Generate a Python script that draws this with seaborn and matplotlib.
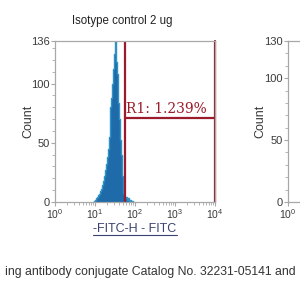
import numpy as np
import pandas as pd
import matplotlib
matplotlib.use("Agg")
import matplotlib.pyplot as plt
from matplotlib.lines import Line2D
from matplotlib.ticker import FixedLocator, NullFormatter
import seaborn as sns

# ---- data ----
title = "Isotype control 2 ug"
xlabel = "-FITC-H - FITC"
ylabel = "Count"
caption = "ing antibody conjugate Catalog No. 32231-05141 and"
region_label = "R1: 1.239%"

log_fitc = [0.95, 0.975, 1.0, 1.025, 1.05, 1.075, 1.1, 1.125, 1.15, 1.175,
            1.2, 1.225, 1.25, 1.275, 1.3, 1.325, 1.35, 1.375, 1.4, 1.425,
            1.45, 1.475, 1.5, 1.525, 1.55, 1.575, 1.6, 1.625, 1.65, 1.675,
            1.7, 1.725, 1.75, 1.775, 1.8, 1.825, 1.85, 1.875, 1.9, 1.925, 1.95]
counts = [0, 1, 2, 3, 4, 6, 7, 9, 11, 14,
          18, 22, 27, 32, 38, 45, 55, 80, 88, 100,
          112, 125, 136, 118, 108, 84, 70, 52, 40, 22,
          8, 5, 3, 4, 2, 3, 1, 2, 1, 1, 0]

gate_low = 56.0      # R1 left boundary
gate_high = 10000.0  # R1 right boundary
gate_level = 71      # R1 horizontal line (count)

y_ticks_1 = [0, 50, 100, 136]
y_ticks_2 = [0, 50, 100, 130]
x_decades = [0, 1, 2, 3, 4]

df = pd.DataFrame({"fitc": 10 ** np.array(log_fitc), "count": counts})

# ---- style ----
sns.set_style("white")
plt.rcParams["font.family"] = ["Liberation Sans", "DejaVu Sans"]
plt.rcParams["mathtext.fontset"] = "custom"
plt.rcParams["mathtext.rm"] = "Liberation Sans"

grey = "#a8a8a8"
txt = "#3a3a3a"
red = "#9a1b2b"

fig = plt.figure(figsize=(3, 3), dpi=100)
ax = fig.add_axes([55 / 300, 98 / 300, 160 / 300, 161 / 300])

ax.fill_between(df["fitc"], df["count"], step="mid", color="#1f6aa8", lw=0)
sns.lineplot(data=df, x="fitc", y="count", ax=ax, color="#2e93c4",
             drawstyle="steps-mid", lw=1.0)

ax.set_xscale("log")
ax.set_xlim(1, 1e4)
ax.set_ylim(0, 136)

# gate
ax.axvline(gate_low, color=red, lw=1.6)
ax.axvline(gate_high, color=red, lw=1.6, clip_on=False)
ax.plot([gate_low, gate_high], [gate_level, gate_level], color=red, lw=1.6)
ax.text(gate_low * 1.04, gate_level + 2, region_label, color=red,
        family="DejaVu Serif", fontsize=10, va="bottom", ha="left")


def style_axes(a, yticks, decades, label_x):
    for s in a.spines.values():
        s.set_color(grey)
        s.set_linewidth(0.9)
    a.set_yticks(yticks)
    a.yaxis.set_minor_locator(FixedLocator(np.arange(0, yticks[-1], 10)))
    a.set_xticks([10.0 ** d for d in decades])
    a.set_xticklabels([r"$\mathregular{10^{%d}}$" % d for d in decades])
    a.xaxis.set_minor_formatter(NullFormatter())
    a.tick_params(axis="both", which="major", direction="out", length=3,
                  width=0.8, color=grey, labelsize=8, labelcolor=txt, pad=1,
                  bottom=True, left=True)
    a.tick_params(axis="x", which="major", labelsize=7.5, pad=1)
    a.tick_params(axis="both", which="minor", direction="out", length=2,
                  width=0.6, color=grey, bottom=True, left=True)
    a.set_xlabel("")
    a.set_ylabel(ylabel, fontsize=9, color=txt)
    a.yaxis.set_label_coords(label_x, 0.5)


style_axes(ax, y_ticks_1, x_decades, -0.13)
ax.set_title(title, fontsize=8.3, color="#222222", pad=12, x=0.42)

xl = fig.text(135 / 300, 1 - 229 / 300, xlabel, ha="center", va="center",
              fontsize=9, color="#3b4470")

# second (cut-off) panel
ax2 = fig.add_axes([288 / 300, 98 / 300, 160 / 300, 161 / 300])
ax2.set_xscale("log")
ax2.set_xlim(1, 1e4)
ax2.set_ylim(0, 130)
style_axes(ax2, y_ticks_2, x_decades[:1], -0.1375)

fig.text(0.502, 1 - 272 / 300, caption, ha="center", va="center",
         fontsize=8.8, color="#333333")

# underline x label
fig.canvas.draw()
bb = xl.get_window_extent().transformed(fig.transFigure.inverted())
fig.add_artist(Line2D([bb.x0, bb.x1], [bb.y0 - 0.001, bb.y0 - 0.001],
                      transform=fig.transFigure, color="#3b4470", lw=0.8))

fig.savefig("out.png", dpi=100)
